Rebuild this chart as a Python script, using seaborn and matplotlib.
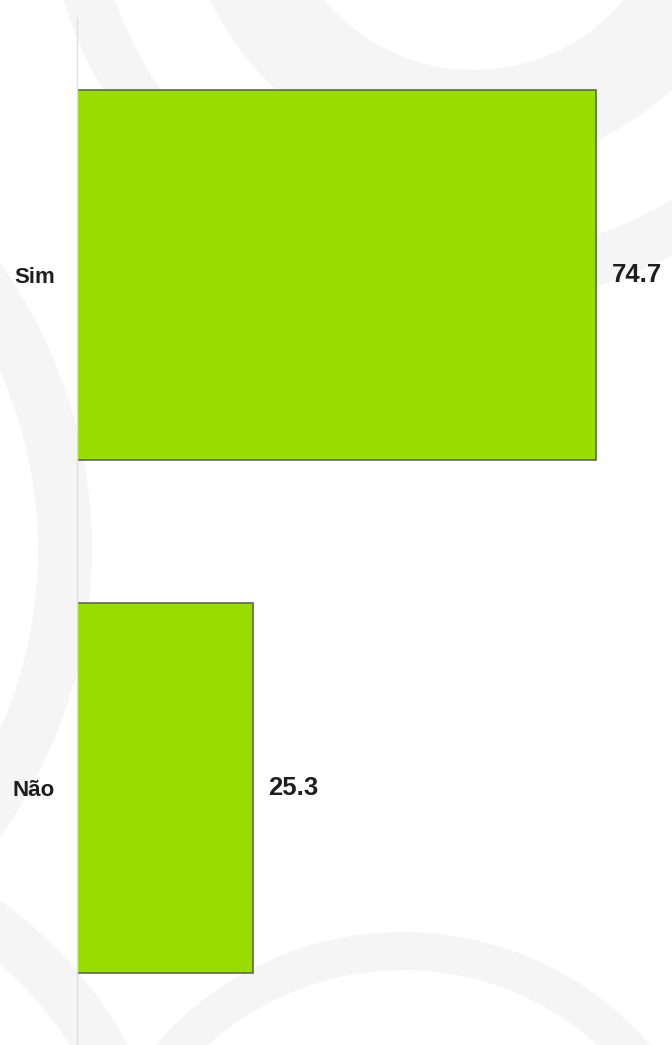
#!/usr/bin/env python3
# Horizontal bar chart: Sim / Não share (%)
import pandas as pd
import matplotlib
matplotlib.use("Agg")
import matplotlib.pyplot as plt
from matplotlib.patches import Annulus
import seaborn as sns

categories = ["Sim", "Não"]
values = [74.7, 25.3]

W, H = 672, 1045
BAR_COLOR = "#99dd00"
EDGE_COLOR = "#5d6a4c"
TEXT_COLOR = "#1e1e1e"
MARK_COLOR = "#f5f5f5"


def draw_watermark(fig):
    # faint ring shapes behind the chart, in pixel coords
    bg = fig.add_axes([0, 0, 1, 1], zorder=0)
    bg.set_xlim(0, W)
    bg.set_ylim(H, 0)
    bg.axis("off")
    rings = [
        # (center, outer radius, width)
        ((474, -125), 292, 97),
        ((474, -125), 429, 49),
        ((-402, 550), 494, 54),
        ((403, 1260), 328, 38),
        ((-250, 1250), 430, 50),
    ]
    for center, r, width in rings:
        bg.add_patch(Annulus(center, r, width, color=MARK_COLOR, lw=0))


def plot_bars(out_path):
    sns.set_theme(style="white")
    plt.rcParams["font.family"] = ["Liberation Sans", "DejaVu Sans"]

    df = pd.DataFrame({"category": categories, "value": values})

    fig = plt.figure(figsize=(W / 100, H / 100), dpi=100)
    fig.patch.set_facecolor("white")
    draw_watermark(fig)

    ax = fig.add_axes([77 / W, 0, 1 - 77 / W - 4 / W, 1 - 18 / H], zorder=1)
    ax.patch.set_alpha(0)

    sns.barplot(
        data=df, x="value", y="category", order=categories,
        color=BAR_COLOR, width=0.72, edgecolor=EDGE_COLOR, linewidth=1.2,
        saturation=1, errorbar=None, ax=ax,
    )
    ax.set_xlim(0, 85)
    ax.set_ylim(1.5, -0.5)
    ax.set_xlabel("")
    ax.set_ylabel("")
    ax.set_xticks([])

    for side in ["top", "right", "bottom"]:
        ax.spines[side].set_visible(False)
    ax.spines["left"].set_color("#e0e0e0")
    ax.spines["left"].set_linewidth(1.0)

    ax.tick_params(axis="y", length=0, pad=16)
    for lbl in ax.get_yticklabels():
        lbl.set_fontsize(16)
        lbl.set_fontweight("bold")
        lbl.set_color(TEXT_COLOR)

    ax.bar_label(
        ax.containers[0], labels=[f"{v:.1f}" for v in values], padding=11,
        fontsize=18.5, fontweight="bold", color=TEXT_COLOR,
    )

    fig.savefig(out_path, dpi=100)
    plt.close(fig)


def main():
    plot_bars("out.png")


if __name__ == "__main__":
    main()
